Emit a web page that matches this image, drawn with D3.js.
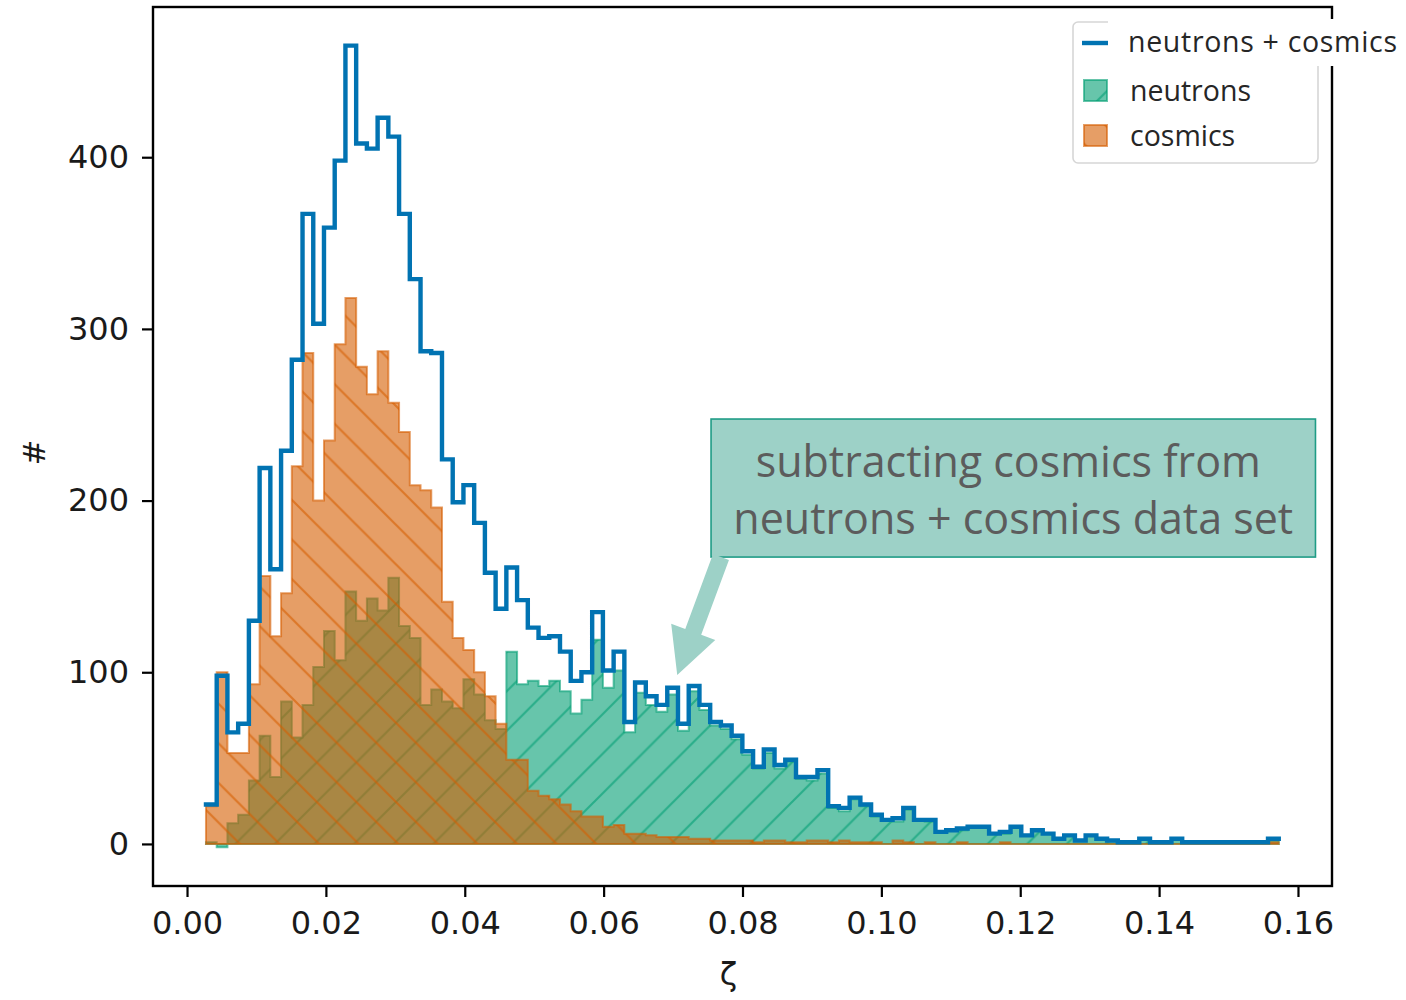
<!DOCTYPE html>
<html>
<head>
<meta charset="utf-8">
<script src="https://cdn.jsdelivr.net/npm/d3@7"></script>
<style>
  body { margin: 0; background: #fff; }
  svg { display: block; }
</style>
</head>
<body>
<svg id="chart" width="1406" height="1000"></svg>
<script>
// Histogram binning in ζ (100 equal bins)
const binStart = 0.00273;
const binWidth = 0.001545;

// Counts per bin: combined run, cosmics-only run, and their difference
const total = [
  23, 98, 65, 70, 130, 219, 160, 229, 282, 367,
  303, 359, 398, 465, 408, 405, 423, 412, 367, 329,
  287, 286, 224, 199, 209, 187, 158, 137, 161, 142,
  126, 120, 121, 112, 95, 100, 135, 101, 112, 71,
  94, 86, 81, 91, 70, 92, 81, 71, 69, 63,
  54, 45, 55, 46, 49, 39, 39, 43, 22, 21,
  27, 23, 17, 14, 15, 21, 14, 14, 7, 8,
  9, 10, 10, 6, 7, 10, 5, 8, 6, 3,
  5, 2, 5, 3, 2, 1, 1, 3, 1, 1,
  3, 1, 1, 1, 1, 1, 1, 1, 1, 3
];
const cosmics = [
  22, 100, 53, 53, 93, 156, 121, 146, 220, 286,
  200, 235, 291, 318, 278, 262, 287, 257, 240, 209,
  206, 196, 141, 120, 113, 100, 86, 70, 49, 49,
  31, 28, 26, 23, 19, 16, 16, 10, 11, 6,
  6, 5, 4, 4, 4, 3, 3, 2, 2, 2,
  2, 1, 2, 2, 1, 1, 2, 2, 1, 2,
  1, 1, 1, 0, 2, 1, 0, 1, 0, 0,
  1, 0, 0, 0, 1, 0, 0, 0, 0, 0,
  0, 0, 0, 0, 0, 0, 0, 0, 0, 0,
  0, 0, 0, 0, 0, 0, 0, 0, 0, 1
];
const neutrons = [
  1, -2, 12, 17, 37, 63, 39, 83, 62, 81,
  103, 124, 107, 147, 130, 143, 136, 155, 127, 120,
  81, 90, 83, 79, 96, 87, 72, 67, 112, 93,
  95, 92, 95, 89, 76, 84, 119, 91, 101, 65,
  88, 81, 77, 87, 66, 89, 78, 69, 67, 61,
  52, 44, 53, 44, 48, 38, 37, 41, 21, 19,
  26, 22, 16, 14, 13, 20, 14, 13, 7, 8,
  8, 10, 10, 6, 6, 10, 5, 8, 6, 3,
  5, 2, 5, 3, 2, 1, 1, 3, 1, 1,
  3, 1, 1, 1, 1, 1, 1, 1, 1, 2
];

const xTicks = [0, 0.02, 0.04, 0.06, 0.08, 0.10, 0.12, 0.14, 0.16];
const yTicks = [0, 100, 200, 300, 400];
const seriesLabels = ["neutrons + cosmics", "neutrons", "cosmics"];
const noteLines = ["subtracting cosmics from", "neutrons + cosmics data set"];
const xLabel = "ζ";
const yLabel = "#";

// Annotation anchors in data space
const noteBox = { x0: 0.07547, x1: 0.16252, y0: 167.1, y1: 247.5 };
const arrowFrom = { x: 0.0769, y: 167.1 };
const arrowTo = { x: 0.0706, y: 98.4 };

// ---- styling ----
const colBlue = "#0173b2", colTeal = "#029e73", colOrange = "#d55e00";
const alpha = 0.6;
const plot = { left: 153, right: 1332, top: 7, bottom: 886 };
const tickFont = "'DejaVu Sans', sans-serif";
const textFont = "'Open Sans', 'Noto Sans', sans-serif";

const svg = d3.select("#chart");
const x = d3.scaleLinear().domain([-0.0049, 0.1649]).range([plot.left, plot.right]);
const y = d3.scaleLinear().domain([-24.5, 487.5]).range([plot.bottom, plot.top]);

const edges = d3.range(total.length + 1).map(i => binStart + i * binWidth);
const stepPoints = counts => counts.map((c, i) => [edges[i], c]).concat([[edges[counts.length], counts[counts.length - 1]]]);

// hatch patterns (45° lines, ~6 per inch at the figure scale)
const defs = svg.append("defs");
function hatch(id, color, dir) {
  const s = 39.6;
  const p = defs.append("pattern").attr("id", id)
    .attr("patternUnits", "userSpaceOnUse")
    .attr("width", s).attr("height", s)
    .attr("x", 0).attr("y", 10);
  const d = dir === "/"
    ? `M0,${s} L${s},0 M${-s},${s} L${s},${-s} M0,${2 * s} L${2 * s},0`
    : `M0,0 L${s},${s} M${-s},0 L${s},${2 * s} M0,${-s} L${2 * s},${s}`;
  p.append("path").attr("d", d)
    .attr("stroke", color).attr("stroke-opacity", alpha)
    .attr("stroke-width", 2.2).attr("fill", "none");
}
hatch("hatchTeal", colTeal, "/");
hatch("hatchOrange", colOrange, "\\");

const area = d3.area().curve(d3.curveStepAfter)
  .x(d => x(d[0])).y0(y(0)).y1(d => y(d[1]));
const line = d3.line().curve(d3.curveStepAfter)
  .x(d => x(d[0])).y(d => y(d[1]));

const plotG = svg.append("g");
function filledHist(counts, color, patternId) {
  const pts = stepPoints(counts);
  const g = plotG.append("g");
  g.append("path").attr("d", area(pts)).attr("fill", color).attr("fill-opacity", alpha);
  g.append("path").attr("d", area(pts)).attr("fill", `url(#${patternId})`);
  g.append("path").attr("d", area(pts)).attr("fill", "none")
    .attr("stroke", color).attr("stroke-opacity", alpha).attr("stroke-width", 2);
}
filledHist(neutrons, colTeal, "hatchTeal");
filledHist(cosmics, colOrange, "hatchOrange");

plotG.append("path").attr("d", line(stepPoints(total)))
  .attr("fill", "none").attr("stroke", colBlue)
  .attr("stroke-width", 4.4).attr("stroke-linecap", "square").attr("stroke-linejoin", "miter");

// frame
svg.append("rect")
  .attr("x", plot.left).attr("y", plot.top)
  .attr("width", plot.right - plot.left).attr("height", plot.bottom - plot.top)
  .attr("fill", "none").attr("stroke", "#000").attr("stroke-width", 2.4);

// axes
const xAxis = d3.axisBottom(x).tickValues(xTicks).tickFormat(d3.format(".2f")).tickSize(11).tickPadding(14);
const yAxis = d3.axisLeft(y).tickValues(yTicks).tickFormat(d3.format("d")).tickSize(11).tickPadding(13);
const gx = svg.append("g").attr("transform", `translate(0,${plot.bottom})`).call(xAxis);
const gy = svg.append("g").attr("transform", `translate(${plot.left},0)`).call(yAxis);
[gx, gy].forEach(g => {
  g.select(".domain").remove();
  g.selectAll(".tick line").attr("stroke", "#000").attr("stroke-width", 2.2);
  g.selectAll(".tick text").attr("fill", "#1a1a1a")
    .style("font-family", tickFont).style("font-size", "32px");
});

svg.append("text").attr("x", (plot.left + plot.right) / 2 - 14).attr("y", 985)
  .attr("text-anchor", "middle").style("font-family", tickFont).style("font-size", "32px")
  .attr("fill", "#1a1a1a").text(xLabel);
svg.append("text").attr("transform", `translate(45,${(plot.top + plot.bottom) / 2 + 6}) rotate(-90)`)
  .attr("text-anchor", "middle").style("font-family", tickFont).style("font-size", "31px")
  .attr("fill", "#1a1a1a").text(yLabel);

// annotation: box + arrow
const nb = svg.append("g");
nb.append("rect")
  .attr("x", x(noteBox.x0)).attr("y", y(noteBox.y1))
  .attr("width", x(noteBox.x1) - x(noteBox.x0)).attr("height", y(noteBox.y0) - y(noteBox.y1))
  .attr("fill", "#9dd1c7").attr("stroke", "#1f9c86").attr("stroke-width", 1.6);
nb.selectAll("text.note").data(noteLines).join("text")
  .attr("x", (d, i) => (x(noteBox.x0) + x(noteBox.x1)) / 2 + (i === 0 ? -5 : 0))
  .attr("y", (d, i) => y(noteBox.y1) + 58 + i * 57)
  .attr("text-anchor", "middle").attr("fill", "#5c5c5c")
  .style("font-family", textFont).style("font-size", "43px").text(d => d);

(function arrow() {
  const x0 = x(arrowFrom.x), y0 = y(arrowFrom.y), x1 = x(arrowTo.x), y1 = y(arrowTo.y);
  const dx = x1 - x0, dy = y1 - y0, len = Math.hypot(dx, dy);
  const ux = dx / len, uy = dy / len, px = -uy, py = ux;
  const shaft = 8.5, head = 23.5, headLen = 46;
  const bx = x1 - ux * headLen, by = y1 - uy * headLen;
  const pts = [
    [x0 + px * shaft, y0 + py * shaft], [bx + px * shaft, by + py * shaft],
    [bx + px * head, by + py * head], [x1, y1],
    [bx - px * head, by - py * head], [bx - px * shaft, by - py * shaft],
    [x0 - px * shaft, y0 - py * shaft]
  ];
  svg.append("path").attr("d", "M" + pts.map(p => p.join(",")).join("L") + "Z")
    .attr("fill", "#9dd1c7");
})();

// legend
const lg = svg.append("g");
lg.append("rect").attr("x", 1073).attr("y", 22).attr("width", 245).attr("height", 141)
  .attr("rx", 5).attr("fill", "#fff").attr("fill-opacity", 0.8)
  .attr("stroke", "#d6d6d6").attr("stroke-width", 1.6);
lg.append("rect").attr("x", 1108).attr("y", 19).attr("width", 298).attr("height", 47).attr("fill", "#fff");
lg.append("line").attr("x1", 1082).attr("x2", 1108).attr("y1", 43).attr("y2", 43)
  .attr("stroke", colBlue).attr("stroke-width", 4.4);
[[colTeal, "hatchTeal", 80], [colOrange, "hatchOrange", 125]].forEach(([c, pid, yy]) => {
  lg.append("rect").attr("x", 1084).attr("y", yy).attr("width", 23).attr("height", 21)
    .attr("fill", c).attr("fill-opacity", alpha).attr("stroke", c).attr("stroke-opacity", alpha).attr("stroke-width", 2);
  lg.append("rect").attr("x", 1084).attr("y", yy).attr("width", 23).attr("height", 21)
    .attr("fill", `url(#${pid})`);
});
const legendText = lg.selectAll("text").data(seriesLabels).join("text")
  .attr("x", (d, i) => i === 0 ? 1128 : 1130)
  .attr("y", (d, i) => [52, 101, 146][i])
  .attr("fill", "#262626").style("font-family", textFont).style("font-size", "28.5px")
  .text(d => d);
legendText.filter((d, i) => i === 0).attr("textLength", 269).attr("lengthAdjust", "spacing");
</script>
</body>
</html>
